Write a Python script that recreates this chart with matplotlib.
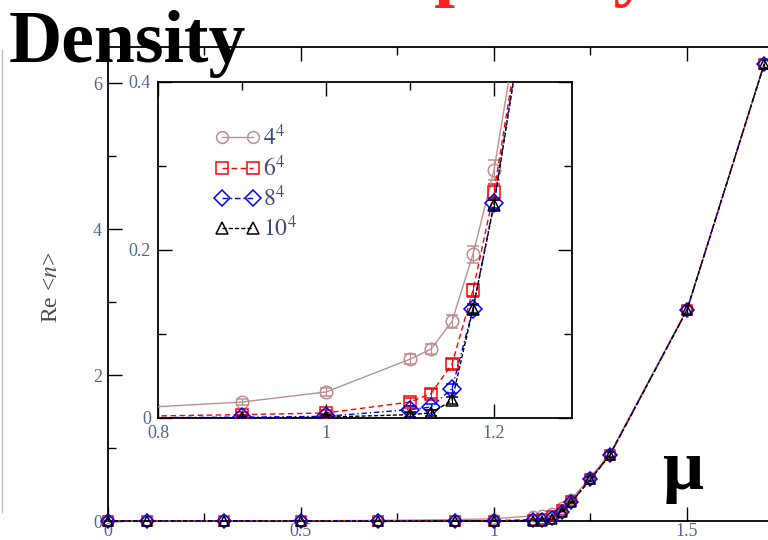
import matplotlib
matplotlib.use("Agg")
import matplotlib.pyplot as plt
from matplotlib.lines import Line2D
from matplotlib.ticker import MultipleLocator, FixedLocator, FixedFormatter

plt.rcParams['font.family'] = ['Liberation Serif', 'DejaVu Serif']
plt.rcParams['mathtext.fontset'] = 'stix'

# chemical potential values
mu = [0.0, 0.1, 0.3, 0.5, 0.7, 0.9, 1.0, 1.1, 1.125, 1.15, 1.175, 1.2, 1.25, 1.3, 1.5, 1.7]

# Re <n> for each lattice volume
n_4 = [0.0, 0.0003, 0.001, 0.003, 0.008, 0.019, 0.031, 0.070, 0.082, 0.115, 0.195, 0.295, 0.60, 0.92, 2.90, 6.26]
n_6 = [0.0, 0.0, 0.0, 0.0, 0.001, 0.004, 0.006, 0.019, 0.029, 0.064, 0.152, 0.269, 0.58, 0.91, 2.89, 6.26]
n_8 = [0.0, 0.0, 0.0, 0.0, 0.0, 0.001, 0.002, 0.010, 0.013, 0.035, 0.130, 0.256, 0.575, 0.90, 2.89, 6.26]
n_10 = [0.0, 0.0, 0.0, 0.0, 0.0, 0.0, 0.001, 0.004, 0.006, 0.021, 0.130, 0.254, 0.57, 0.90, 2.89, 6.26]

# statistical errors
e_4 = [0.0, 0.0, 0.0, 0.001, 0.002, 0.004, 0.005, 0.006, 0.006, 0.008, 0.010, 0.012, 0.03, 0.04, 0.05, 0.05]
e_6 = [0.0, 0.0, 0.0, 0.0, 0.001, 0.003, 0.004, 0.005, 0.005, 0.006, 0.008, 0.010, 0.03, 0.04, 0.05, 0.05]
e_8 = [0.0, 0.0, 0.0, 0.0, 0.0, 0.002, 0.003, 0.004, 0.004, 0.005, 0.006, 0.006, 0.03, 0.04, 0.05, 0.05]
e_10 = [0.0, 0.0, 0.0, 0.0, 0.0, 0.002, 0.003, 0.003, 0.004, 0.004, 0.005, 0.006, 0.03, 0.04, 0.05, 0.05]

labels = ['$4^4$', '$6^4$', '$8^4$', '$10^4$']
main_xticks = [0.0, 0.5, 1.0, 1.5]
main_xticklabels = ['0', '0.5', '1', '1.5']
main_yticks = [0, 2, 4, 6]
main_yticklabels = ['0', '2', '4', '6']
inset_xticks = [0.8, 1.0, 1.2]
inset_xticklabels = ['0.8', '1', '1.2']
inset_yticks = [0.0, 0.2, 0.4]
inset_yticklabels = ['0', '0.2', '0.4']

series = [
    (n_4, e_4, dict(color='#bc8f8f', marker='o', ls='-')),
    (n_6, e_6, dict(color='#ff0000', marker='s', ls=(0, (4, 2.5)))),
    (n_8, e_8, dict(color='#0000ff', marker='D', ls=(0, (4, 2, 1, 2)))),
    (n_10, e_10, dict(color='#000000', marker='^', ls=(0, (3, 1.5)))),
]

tick_color = '#4f6790'

W, H = 768, 540
fig = plt.figure(figsize=(W / 100, H / 100), dpi=100)
fig.patch.set_facecolor('white')

# main panel (extends past the right edge)
x0, y0 = 108, 521
px_x, px_y = 386.0, 73.0
xmax, ymax = 1.75, 6.5
ax = fig.add_axes([x0 / W, (H - y0) / H, xmax * px_x / W, ymax * px_y / H])
ax.set_xlim(0, xmax)
ax.set_ylim(0, ymax)

for vals, errs, st in series:
    ax.errorbar(mu, vals, yerr=errs, color=st['color'], marker=st['marker'], ls=st['ls'],
                lw=1.0, ms=7.5, mfc='none', mew=1.1, capsize=3.5, elinewidth=0.8,
                capthick=0.8, clip_on=False, zorder=3)

ax.xaxis.set_major_locator(FixedLocator(main_xticks))
ax.xaxis.set_major_formatter(FixedFormatter(main_xticklabels))
ax.xaxis.set_minor_locator(MultipleLocator(0.25))
ax.yaxis.set_major_locator(FixedLocator(main_yticks))
ax.yaxis.set_major_formatter(FixedFormatter(main_yticklabels))
ax.yaxis.set_minor_locator(MultipleLocator(1))
ax.tick_params(which='both', direction='in', top=True, right=True, width=1.0,
               labelsize=13, labelcolor=tick_color)
ax.tick_params(which='major', length=10)
ax.tick_params(which='minor', length=5.5)
ax.tick_params(axis='x', pad=1.5)
ax.tick_params(axis='y', pad=4.5)
for s in ax.spines.values():
    s.set_linewidth(1.3)
ax.set_ylabel('Re <$n$>', fontsize=17, color='#4a4a55')
ax.yaxis.set_label_coords((62 - x0) / (xmax * px_x), (y0 - 287) / (ymax * px_y))

# inset panel
ix0, ix1, iy0, iy1 = 158, 572, 418, 82
ax2 = fig.add_axes([ix0 / W, (H - iy0) / H, (ix1 - ix0) / W, (iy0 - iy1) / H])
ax2.set_facecolor('white')
ax2.set_xlim(0.8, 0.8 + (ix1 - ix0) / 840.0)
ax2.set_ylim(0, 0.4)

handles = []
for (vals, errs, st), lab in zip(series, labels):
    ax2.errorbar(mu, vals, yerr=errs, color=st['color'], marker=st['marker'], ls=st['ls'],
                 lw=1.0, ms=9, mfc='none', mew=1.1, capsize=4.5, elinewidth=0.8,
                 capthick=0.8, zorder=3)
    handles.append(Line2D([], [], color=st['color'], marker=st['marker'], ls=st['ls'],
                          lw=1.0, ms=8.5, mfc='none', mew=1.1, label=lab))

ax2.xaxis.set_major_locator(FixedLocator(inset_xticks))
ax2.xaxis.set_major_formatter(FixedFormatter(inset_xticklabels))
ax2.xaxis.set_minor_locator(MultipleLocator(0.1))
ax2.yaxis.set_major_locator(FixedLocator(inset_yticks))
ax2.yaxis.set_major_formatter(FixedFormatter(inset_yticklabels))
ax2.yaxis.set_minor_locator(MultipleLocator(0.1))
ax2.tick_params(which='both', direction='in', top=True, right=True, width=1.0,
                labelsize=13, labelcolor=tick_color)
ax2.tick_params(which='major', length=10)
ax2.tick_params(which='minor', length=5.5)
ax2.tick_params(axis='x', pad=5)
ax2.tick_params(axis='y', pad=5)
for s in ax2.spines.values():
    s.set_linewidth(1.3)

leg = ax2.legend(handles=handles, loc='upper left', bbox_to_anchor=(0.138, 0.872),
                 frameon=False, numpoints=2, handlelength=1.9, handletextpad=0.12,
                 labelspacing=0.2, borderpad=0, borderaxespad=0,
                 prop={'family': 'Liberation Serif', 'size': 17})
for t in leg.get_texts():
    t.set_color('#3f4a7a')

# slide text
fig.text(9 / W, 1 - 62 / H, 'Density', fontsize=53, fontweight='bold', color='black',
         ha='left', va='baseline', zorder=10)
fig.text(280 / W, 1 + 8 / H, 'Complexity', fontsize=54, fontweight='bold', color='#ff2020',
         ha='left', va='baseline', zorder=10)
fig.text(683 / W, 1 - 489 / H, 'μ', fontsize=52, fontweight='bold', color='black',
         ha='center', va='baseline', zorder=10)

# faint slide border on the left
fig.add_artist(Line2D([1.5 / W, 1.5 / W], [1 - 50 / H, 1 - 512 / H],
                      transform=fig.transFigure, color='#c0c0c0', lw=1.0))

fig.savefig('out.png', dpi=100)
